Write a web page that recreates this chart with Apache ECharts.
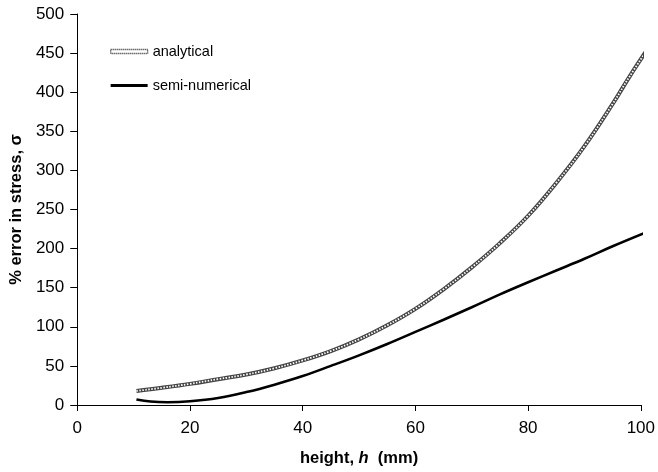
<!DOCTYPE html>
<html>
<head>
<meta charset="utf-8">
<script src="https://cdn.jsdelivr.net/npm/echarts@6/dist/echarts.min.js"></script>
<style>
  html, body { margin: 0; padding: 0; background: #fff; }
  #chart { width: 658px; height: 472px; }
</style>
</head>
<body>
<div id="chart"></div>
<script>
// Height h (mm) against % error in stress for the two models
const analyticalH = [10.5, 15, 20, 25, 30, 35, 40, 45, 50, 55, 60, 65, 70, 75, 80, 85, 90, 95, 98, 101];
const analyticalErr = [18, 22, 27, 33, 39, 47, 57, 69, 84, 102, 123, 148, 176, 207, 242, 284, 331, 385, 420, 453];

const semiH = [10.5, 13, 16, 20, 25, 30, 35, 40, 45, 50, 55, 60, 65, 70, 75, 80, 85, 90, 95, 101];
const semiErr = [7, 4.5, 3.6, 4.8, 9, 16.5, 26, 37, 50, 63.5, 78, 93.5, 109, 125, 141.5, 157, 172, 187, 203, 221];

const xTicks = [0, 20, 40, 60, 80, 100];
const yTicks = [0, 50, 100, 150, 200, 250, 300, 350, 400, 450, 500];

const pairs = (xs, ys) => xs.map((x, i) => [x, ys[i]]);

const FONT = '"Liberation Sans", Arial, sans-serif';
const chart = echarts.init(document.getElementById('chart'));

chart.setOption({
  animation: false,
  backgroundColor: '#fff',
  grid: { left: 75, right: 15, top: 14, bottom: 67, containLabel: false },
  legend: {
    orient: 'vertical',
    left: 110,
    top: 44,
    padding: 0,
    itemWidth: 37,
    itemHeight: 14,
    itemGap: 19,
    textStyle: { fontFamily: FONT, fontSize: 14.5, color: '#000' },
    data: [
      { name: 'analytical', icon: 'path://M0,0 L37,0 L37,4 L0,4 Z',
        itemStyle: { color: '#fff', borderColor: '#222', borderWidth: 1.3, borderType: [1, 1] } },
      { name: 'semi-numerical', icon: 'path://M0,0 L37,0 L37,3 L0,3 Z',
        itemStyle: { color: '#000', borderWidth: 0 } }
    ]
  },
  xAxis: {
    type: 'value',
    min: xTicks[0],
    max: xTicks[xTicks.length - 1],
    interval: xTicks[1] - xTicks[0],
    name: '{b|height, }{bi|h}{b|  (mm)}',
    nameLocation: 'middle',
    nameGap: 45,
    nameTextStyle: {
      rich: {
        b: { fontFamily: FONT, fontSize: 16.5, fontWeight: 'bold', color: '#000' },
        bi: { fontFamily: FONT, fontSize: 16.5, fontWeight: 'bold', fontStyle: 'italic', color: '#000' }
      }
    },
    axisLine: { lineStyle: { color: '#000', width: 1 } },
    axisTick: { show: true, inside: false, length: 6, lineStyle: { color: '#000' } },
    axisLabel: { margin: 15, fontFamily: FONT, fontSize: 17, color: '#000' },
    splitLine: { show: false }
  },
  yAxis: {
    type: 'value',
    min: yTicks[0],
    max: yTicks[yTicks.length - 1],
    interval: yTicks[1] - yTicks[0],
    name: '% error in stress, σ',
    nameLocation: 'middle',
    nameGap: 52,
    nameTextStyle: { fontFamily: FONT, fontSize: 16.5, fontWeight: 'bold', color: '#000' },
    axisLine: { show: true, lineStyle: { color: '#000', width: 1 } },
    axisTick: { show: true, inside: false, length: 7, lineStyle: { color: '#000' } },
    axisLabel: { margin: 13, fontFamily: FONT, fontSize: 17, color: '#000' },
    splitLine: { show: false }
  },
  series: [
    {
      name: 'analytical',
      type: 'line',
      data: pairs(analyticalH, analyticalErr),
      smooth: 0.4,
      showSymbol: false,
      clip: false,
      lineStyle: { color: '#444', width: 4 }
    },
    {
      // lighter broken core that gives the analytical curve its beaded texture
      name: 'analytical-core',
      type: 'line',
      data: pairs(analyticalH, analyticalErr),
      smooth: 0.4,
      showSymbol: false,
      clip: false,
      silent: true,
      lineStyle: { color: '#fff', width: 1.8, type: [1.5, 1.5] }
    },
    {
      name: 'semi-numerical',
      type: 'line',
      data: pairs(semiH, semiErr),
      smooth: 0.4,
      showSymbol: false,
      clip: false,
      lineStyle: { color: '#000', width: 2.6 },
      itemStyle: { color: '#000' }
    }
  ]
});
</script>
</body>
</html>
